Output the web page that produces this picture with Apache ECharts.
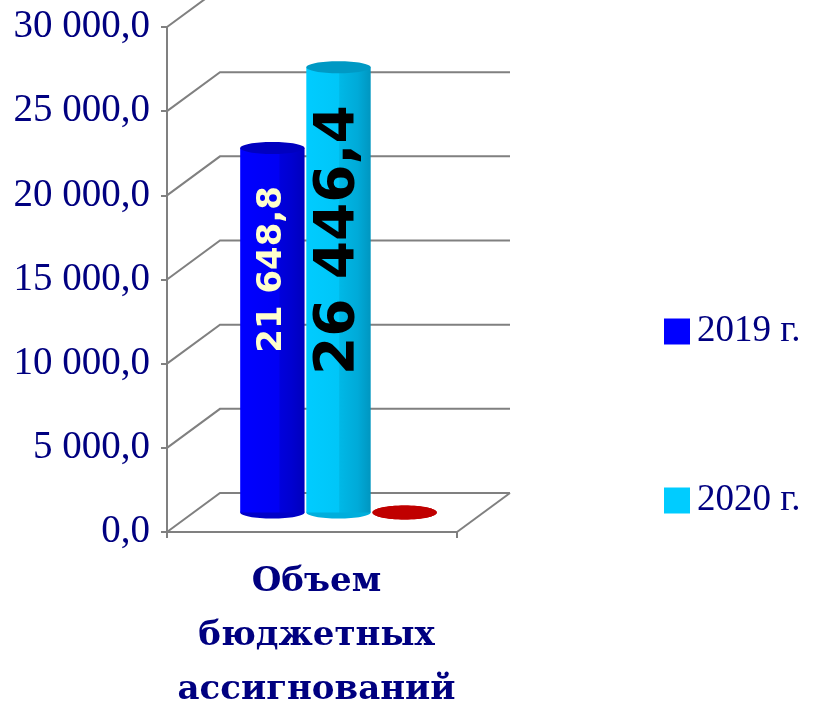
<!DOCTYPE html>
<html>
<head>
<meta charset="utf-8">
<script src="https://cdn.jsdelivr.net/npm/echarts@6/dist/echarts.min.js"></script>
<style>
  html, body { margin: 0; padding: 0; background: #fff; }
  #chart { width: 815px; height: 704px; }
</style>
</head>
<body>
<div id="chart"></div>
<script>
// данные
var categories = ['Объем\nбюджетных\nассигнований'];
var years = ['2019 г.', '2020 г.'];
var values2019 = [21648.8];
var values2020 = [26446.4];
var valuesOther = [0];
var yTicks = [0, 5000, 10000, 15000, 20000, 25000, 30000];

// смещение задней стенки (псевдо-3D)
var DX = 53, DY = -39;

function fmt(v) {
    var s = v.toFixed(1).split('.');
    return s[0].replace(/\B(?=(\d{3})+(?!\d))/g, ' ') + ',' + s[1];
}

function cylinder(idx, colors, label) {
    return function (params, api) {
        var base = api.coord([0, 0]);
        var top = api.coord([0, api.value(1)]);
        var W = api.size([1, 0])[0];
        var w = W * 0.222;
        var cx = base[0] + DX / 2 + (idx - 1) * W * 0.228;
        var yb = base[1] + DY / 2;
        var yt = top[1] + DY / 2;
        var ry = colors.ry || 6;
        var children = [
            { type: 'ellipse', shape: { cx: cx, cy: yb, rx: w / 2, ry: ry }, style: { fill: colors.side } },
            {
                type: 'rect',
                shape: { x: cx - w / 2, y: yt, width: w, height: Math.max(yb - yt, 0) },
                style: { fill: new echarts.graphic.LinearGradient(0, 0, 1, 0, colors.stops) }
            },
            { type: 'ellipse', shape: { cx: cx, cy: yt, rx: w / 2, ry: ry }, style: { fill: colors.top } }
        ];
        if (label) {
            children.push({
                type: 'text',
                x: cx,
                y: yt + 38,
                rotation: Math.PI / 2,
                style: {
                    text: fmt(api.value(1)),
                    fill: label.color,
                    fontSize: label.size,
                    fontWeight: 'bold',
                    fontFamily: 'DejaVu Sans',
                    align: 'right',
                    verticalAlign: 'middle'
                }
            });
        }
        return { type: 'group', children: children };
    };
}

var myChart = echarts.init(document.getElementById('chart'));

myChart.setOption({
    animation: false,
    backgroundColor: '#ffffff',
    grid: { left: 167, right: 358, top: 27, bottom: 172, containLabel: false, outerBoundsMode: 'none' },
    legend: {
        data: years,
        orient: 'vertical',
        left: 659,
        top: 308,
        itemWidth: 26,
        itemHeight: 26,
        itemGap: 132,
        icon: 'rect',
        textStyle: { fontFamily: 'Liberation Serif', fontSize: 37, color: '#000080', padding: [0, 0, 0, 2] }
    },
    xAxis: {
        type: 'category',
        data: categories,
        axisLine: { show: true, lineStyle: { color: '#808080', width: 2 } },
        axisTick: { show: true, length: 6, lineStyle: { color: '#808080', width: 2 } },
        axisLabel: {
            margin: 23,
            fontFamily: 'DejaVu Serif',
            fontWeight: 'bold',
            fontSize: 34,
            lineHeight: 54,
            padding: [0, 0, 0, 9],
            color: '#000080'
        }
    },
    yAxis: {
        type: 'value',
        min: 0,
        max: 30000,
        interval: 5000,
        axisLine: { show: true, lineStyle: { color: '#808080', width: 2 } },
        axisTick: { show: true, length: 6, lineStyle: { color: '#808080', width: 2 } },
        splitLine: { show: false },
        axisLabel: {
            margin: 17,
            fontFamily: 'Liberation Serif',
            fontSize: 39,
            color: '#000080',
            formatter: fmt
        }
    },
    series: [
        {
            name: 'walls',
            type: 'custom',
            silent: true,
            z: 1,
            data: yTicks.map(function (v) { return [0, v]; }),
            renderItem: function (params, api) {
                var p = api.coord([0, api.value(1)]);
                var W = api.size([1, 0])[0];
                var left = p[0] - W / 2, right = p[0] + W / 2;
                var st = { stroke: '#808080', lineWidth: 2, fill: null };
                var ch = [{
                    type: 'polyline',
                    shape: { points: [[left, p[1]], [left + DX, p[1] + DY], [right + DX, p[1] + DY]] },
                    style: st
                }];
                if (api.value(1) === 0) {
                    ch.push({ type: 'line', shape: { x1: right, y1: p[1], x2: right + DX, y2: p[1] + DY }, style: st });
                }
                return { type: 'group', children: ch };
            }
        },
        {
            name: years[0],
            type: 'custom',
            z: 3,
            itemStyle: { color: '#0000FF' },
            data: values2019.map(function (v, i) { return [i, v]; }),
            renderItem: cylinder(0, {
                side: '#0000C8',
                top: '#0000C0',
                stops: [
                    { offset: 0, color: '#0000FF' }, { offset: 0.6, color: '#0000F4' },
                    { offset: 0.62, color: '#0000DC' }, { offset: 0.8, color: '#0000D0' },
                    { offset: 1, color: '#0000BC' }
                ]
            }, { color: '#FFFFCC', size: 34 })
        },
        {
            name: years[1],
            type: 'custom',
            z: 3,
            itemStyle: { color: '#00CCFF' },
            data: values2020.map(function (v, i) { return [i, v]; }),
            renderItem: cylinder(1, {
                side: '#00AEDC',
                top: '#0099C4',
                stops: [
                    { offset: 0, color: '#00CCFF' }, { offset: 0.5, color: '#00C6F8' },
                    { offset: 0.52, color: '#00B8E6' }, { offset: 0.8, color: '#00AAD8' },
                    { offset: 1, color: '#0096C0' }
                ]
            }, { color: '#000000', size: 55 })
        },
        {
            name: 'other',
            type: 'custom',
            z: 3,
            itemStyle: { color: '#C00000' },
            data: valuesOther.map(function (v, i) { return [i, v]; }),
            renderItem: cylinder(2, {
                ry: 7,
                side: '#C00000',
                top: '#C00000',
                stops: [{ offset: 0, color: '#C00000' }, { offset: 1, color: '#A00000' }]
            }, null)
        }
    ]
});
</script>
</body>
</html>
